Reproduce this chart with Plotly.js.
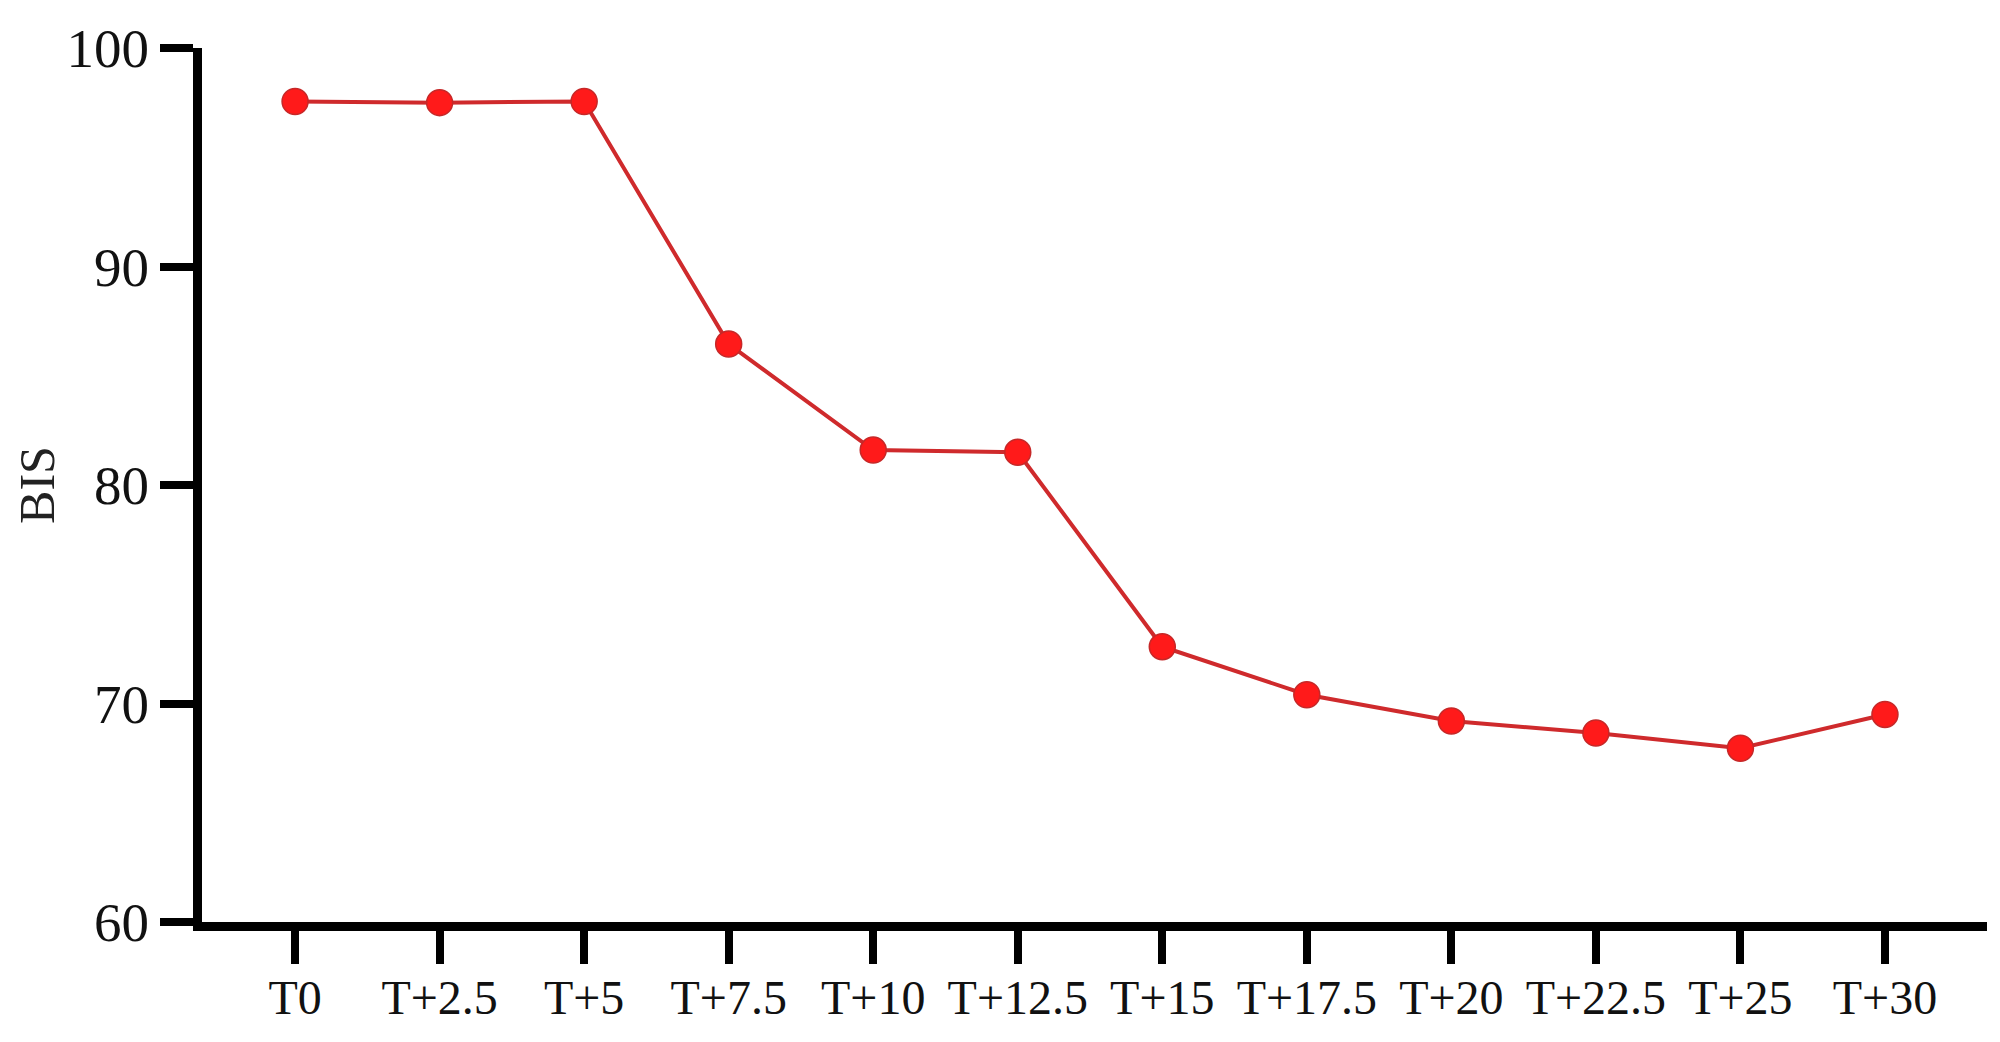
<!DOCTYPE html>
<html>
<head>
<meta charset="utf-8">
<script src="https://cdn.plot.ly/plotly-3.0.1.min.js"></script>
<style>
  html, body { margin: 0; padding: 0; background: #fff; }
  #chart { width: 2000px; height: 1042px; }
</style>
</head>
<body>
<div id="chart"></div>
<script>
// time points and mean BIS
var timePoints = ['T0', 'T+2.5', 'T+5', 'T+7.5', 'T+10', 'T+12.5', 'T+15',
                  'T+17.5', 'T+20', 'T+22.5', 'T+25', 'T+30'];
var bisValues = [97.55, 97.5, 97.55, 86.45, 81.6, 81.5, 72.6, 70.4, 69.2, 68.65, 67.95, 69.5];
var yTicks = [60, 70, 80, 90, 100];

var font = 'Liberation Serif, Times New Roman, serif';

var trace = {
  x: timePoints,
  y: bisValues,
  type: 'scatter',
  mode: 'lines+markers',
  line: { color: '#cf2a2c', width: 4 },
  marker: { size: 26, color: '#ff1a1a', line: { color: '#c62828', width: 1.5 } },
  hoverinfo: 'x+y'
};

var layout = {
  width: 2000,
  height: 1042,
  paper_bgcolor: '#ffffff',
  plot_bgcolor: '#ffffff',
  showlegend: false,
  margin: { l: 202, r: 13, t: 48, b: 120 },
  font: { family: font, color: '#111' },
  xaxis: {
    type: 'category',
    categoryarray: timePoints,
    range: [-0.644, 11.706],
    showline: true,
    linecolor: '#000',
    linewidth: 9,
    ticks: 'outside',
    ticklen: 33,
    tickwidth: 8,
    tickcolor: '#000',
    showgrid: false,
    zeroline: false,
    ticklabelstandoff: -8,
    tickfont: { family: font, size: 48, color: '#111' },
    automargin: false
  },
  yaxis: {
    range: [60, 100],
    tickvals: yTicks,
    showline: true,
    linecolor: '#000',
    linewidth: 9,
    ticks: 'outside',
    ticklen: 33,
    tickwidth: 8,
    tickcolor: '#000',
    showgrid: false,
    zeroline: false,
    tickfont: { family: font, size: 55, color: '#111' },
    title: { text: 'BIS', font: { family: font, size: 50, color: '#222' }, standoff: 0 },
    automargin: false
  }
};

Plotly.newPlot('chart', [trace], layout, { staticPlot: true });
</script>
</body>
</html>
